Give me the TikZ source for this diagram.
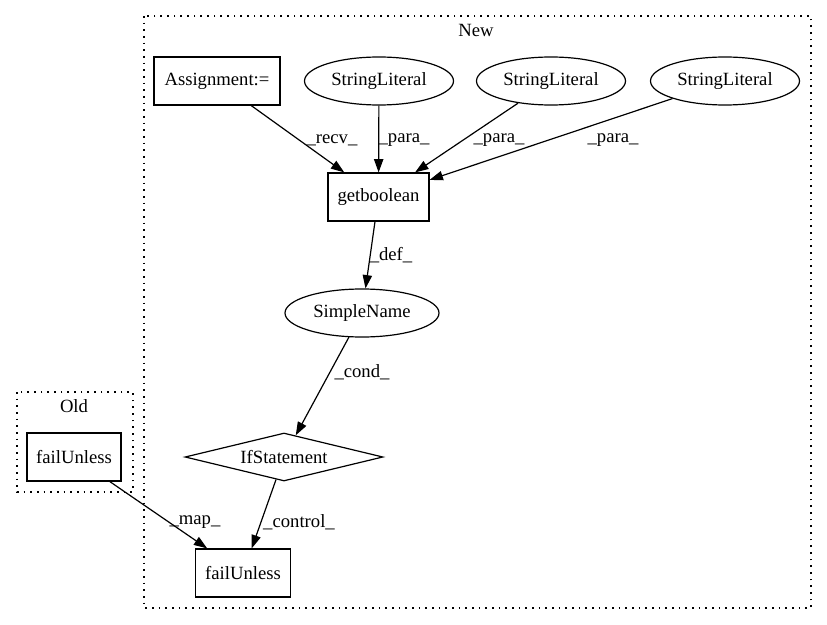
\documentclass[tikz,border=0pt]{standalone}
\usepackage{fontspec}
\setmainfont{Liberation Serif}
\usetikzlibrary{shapes.geometric,arrows.meta}
\begin{document}
\begin{tikzpicture}[x=0.75pt,y=-0.75pt,
  font=\fontsize{14}{16}\selectfont,
  every node/.style={inner sep=0pt},
  box/.style={draw, line width=0.9pt, minimum height=36pt},
  oval/.style={draw, ellipse, line width=0.9pt, minimum width=111.75pt, minimum height=36pt},
  cond/.style={draw, diamond, aspect=4.125, line width=0.9pt, minimum width=148.5pt, minimum height=36pt},
  cluster/.style={draw, line width=0.9pt, dash pattern=on 1.3pt off 3.7pt},
  edge/.style={draw, line width=0.9pt, -{Triangle[length=10pt,width=7pt]}},
  lbl/.style={inner sep=0pt}]
\useasboundingbox (0,0) rectangle (827,624);
% clusters
\draw[cluster] (144,16) rectangle (811,608);
\node (newlbl) at (476,30) {New};
\draw[cluster] (17,392) rectangle (133,492);
\node (oldlbl) at (74,406) {Old};
% nodes
\node[box, minimum width=94.5pt] (assign) at (217,81) {Assignment:=};
\node[oval] (sl1) at (379,81) {StringLiteral};
\node[oval] (sl2) at (551,81) {StringLiteral};
\node[oval] (sl3) at (725,81) {StringLiteral};
\node[box, minimum width=75.75pt] (getb) at (378.5,197) {getboolean};
\node[oval, minimum width=115.5pt] (sname) at (362,313) {SimpleName};
\node[cond] (ifst) at (284,457) {IfStatement};
\node[box, minimum width=71.25pt] (failnew) at (243,573) {failUnless};
\node[box, minimum width=70.5pt] (failold) at (74,457) {failUnless};
% edges
\draw[edge] (assign) -- (getb);
\draw[edge] (sl1) -- (getb);
\draw[edge] (sl2) -- (getb);
\draw[edge] (sl3) -- (getb);
\draw[edge] (getb) -- (sname);
\draw[edge] (sname) -- (ifst);
\draw[edge] (ifst) -- (failnew);
\draw[edge] (failold) -- (failnew);
% edge labels
\node[lbl] (l1) at (332,140) {\_recv\_};
\node[lbl] (l2) at (404,140) {\_para\_};
\node[lbl] (l3) at (499,140) {\_para\_};
\node[lbl] (l4) at (613,140) {\_para\_};
\node[lbl] (l5) at (391,255) {\_def\_};
\node[lbl] (l6) at (362,372) {\_cond\_};
\node[lbl] (l7) at (299,522) {\_control\_};
\node[lbl] (l8) at (195,522) {\_map\_};
\end{tikzpicture}
\end{document}
